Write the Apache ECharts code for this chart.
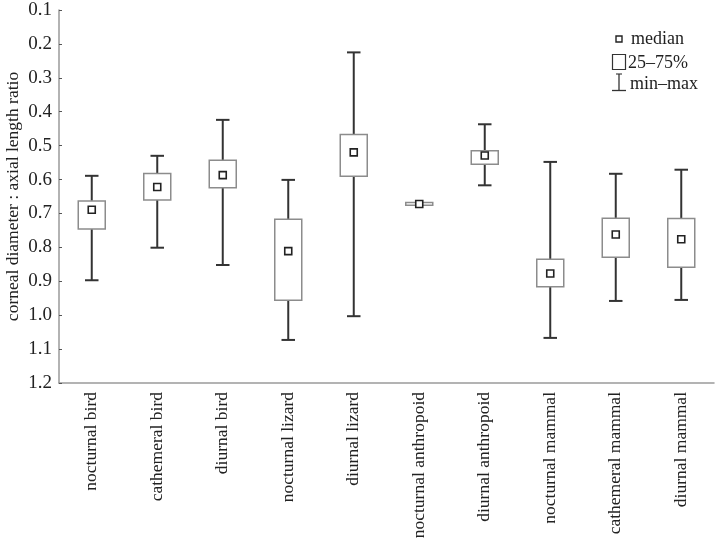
<!DOCTYPE html>
<html>
<head>
<meta charset="utf-8">
<script src="https://cdn.jsdelivr.net/npm/echarts@6/dist/echarts.min.js"></script>
<style>html,body{margin:0;padding:0;background:#fff;}#c{width:715px;height:547px;}</style>
</head>
<body>
<div id="c"></div>
<script>
var categories = ['nocturnal bird','cathemeral bird','diurnal bird','nocturnal lizard','diurnal lizard','nocturnal anthropoid','diurnal anthropoid','nocturnal mammal','cathemeral mammal','diurnal mammal'];
var lowVals    = [0.589, 0.530, 0.424, 0.601, 0.225, 0.668, 0.437, 0.548, 0.583, 0.571];
var q1Vals     = [0.663, 0.582, 0.543, 0.717, 0.467, 0.668, 0.515, 0.835, 0.714, 0.715];
var medianVals = [0.689, 0.622, 0.587, 0.811, 0.520, 0.672, 0.529, 0.877, 0.762, 0.776];
var q3Vals     = [0.746, 0.660, 0.624, 0.956, 0.590, 0.676, 0.555, 0.916, 0.829, 0.859];
var highVals   = [0.897, 0.801, 0.852, 1.073, 1.003, 0.676, 0.617, 1.067, 0.958, 0.955];
var yTicks = [0.1,0.2,0.3,0.4,0.5,0.6,0.7,0.8,0.9,1.0,1.1,1.2];

var serif = '"Liberation Serif", "DejaVu Serif", serif';
var data = categories.map(function(c,i){ return [i, lowVals[i], q1Vals[i], medianVals[i], q3Vals[i], highVals[i]]; });

function renderItem(params, api){
  var i = api.value(0);
  var pLow = api.coord([i, api.value(1)]);
  var pQ1 = api.coord([i, api.value(2)]);
  var pMed = api.coord([i, api.value(3)]);
  var pQ3 = api.coord([i, api.value(4)]);
  var pHigh = api.coord([i, api.value(5)]);
  var x = pMed[0];
  var boxW = 27, capW = 13.5, ms = 7;
  var whisk = {stroke:'#333', lineWidth:2};
  var children = [];
  if (Math.abs(pLow[1]-pQ1[1]) > 0.5) {
    children.push({type:'line', shape:{x1:x,y1:pLow[1],x2:x,y2:pQ1[1]}, style:whisk});
    children.push({type:'line', shape:{x1:x-capW/2,y1:pLow[1],x2:x+capW/2,y2:pLow[1]}, style:whisk});
  }
  if (Math.abs(pHigh[1]-pQ3[1]) > 0.5) {
    children.push({type:'line', shape:{x1:x,y1:pQ3[1],x2:x,y2:pHigh[1]}, style:whisk});
    children.push({type:'line', shape:{x1:x-capW/2,y1:pHigh[1],x2:x+capW/2,y2:pHigh[1]}, style:whisk});
  }
  children.push({type:'rect', shape:{x:x-boxW/2, y:Math.min(pQ1[1],pQ3[1]), width:boxW, height:Math.abs(pQ3[1]-pQ1[1])}, style:{fill:'#fff', stroke:'#8c8c8c', lineWidth:1.5}});
  children.push({type:'rect', shape:{x:x-ms/2, y:pMed[1]-ms/2, width:ms, height:ms}, style:{fill:'#fff', stroke:'#222', lineWidth:1.6}});
  return {type:'group', children:children};
}

var chart = echarts.init(document.getElementById('c'), null, {renderer:'canvas'});
chart.setOption({
  animation:false,
  backgroundColor:'#fff',
  grid:{left:59, right:1, top:10, bottom:164, containLabel:false, outerBoundsMode:'none'},
  xAxis:{
    type:'category', data:categories,
    axisLine:{lineStyle:{color:'#9a9a9a', width:1.5}},
    axisTick:{inside:true, alignWithLabel:true, length:3, lineStyle:{color:'#555'}},
    axisLabel:{rotate:90, interval:0, color:'#222', fontFamily:serif, fontSize:17.5, margin:9},
    splitLine:{show:false}
  },
  yAxis:{
    type:'value', inverse:true, min:0.1, max:1.2, interval:0.1,
    name:'corneal diameter : axial length ratio', nameLocation:'middle', nameGap:37, nameMoveOverlap:false,
    nameTextStyle:{color:'#222', fontFamily:serif, fontSize:17.5},
    axisLine:{show:true, lineStyle:{color:'#9a9a9a', width:1.5}},
    axisTick:{show:true, inside:true, length:3, lineStyle:{color:'#555'}},
    axisLabel:{color:'#222', fontFamily:serif, fontSize:19, margin:7, formatter:function(v){return v.toFixed(1);}},
    splitLine:{show:false}
  },
  series:[{type:'custom', renderItem:renderItem, data:data, encode:{x:0, y:[1,2,3,4,5]}, clip:false}],
  graphic:[
    {type:'rect', shape:{x:616, y:36, width:6, height:6}, style:{fill:'#fff', stroke:'#222', lineWidth:1.4}},
    {type:'text', style:{x:631, y:39, text:'median', fill:'#222', font:'18px '+serif, verticalAlign:'middle'}},
    {type:'rect', shape:{x:612.5, y:54.5, width:13, height:15}, style:{fill:'#fff', stroke:'#333', lineWidth:1.2}},
    {type:'text', style:{x:628, y:63, text:'25–75%', fill:'#222', font:'18px '+serif, verticalAlign:'middle'}},
    {type:'line', shape:{x1:619, y1:74, x2:619, y2:90.5}, style:{stroke:'#333', lineWidth:1.3}},
    {type:'line', shape:{x1:612, y1:90.5, x2:626, y2:90.5}, style:{stroke:'#333', lineWidth:1.3}},
    {type:'line', shape:{x1:616, y1:74, x2:622, y2:74}, style:{stroke:'#333', lineWidth:1.1}},
    {type:'text', style:{x:630, y:84, text:'min–max', fill:'#222', font:'18px '+serif, verticalAlign:'middle'}}
  ]
});
</script>
</body>
</html>
